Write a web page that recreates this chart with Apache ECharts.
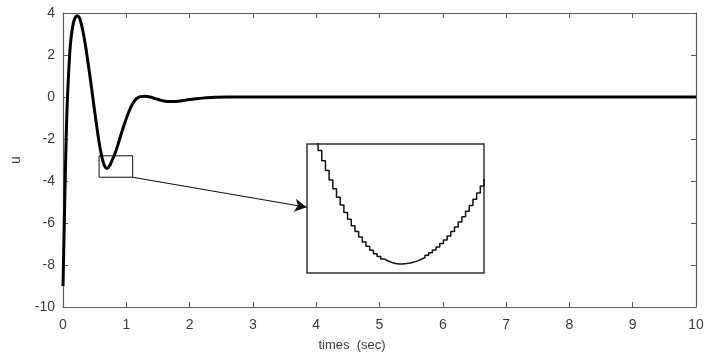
<!DOCTYPE html>
<html>
<head>
<meta charset="utf-8">
<script src="https://cdn.jsdelivr.net/npm/echarts@6/dist/echarts.min.js"></script>
<style>
html,body{margin:0;padding:0;background:#fff;}
#c{width:715px;height:364px;}
</style>
</head>
<body>
<div id="c"></div>
<script>
// Main response (time in sec, control signal u)
var timeValues = [0, 0.015, 0.03, 0.045, 0.06, 0.08, 0.10, 0.12, 0.15, 0.18, 0.21, 0.23, 0.25, 0.27, 0.31, 0.35, 0.39, 0.43, 0.47, 0.51, 0.55, 0.59, 0.63, 0.66, 0.69, 0.73, 0.77, 0.82, 0.87, 0.92, 0.98, 1.04, 1.10, 1.16, 1.22, 1.30, 1.38, 1.46, 1.55, 1.64, 1.72, 1.82, 1.95, 2.10, 2.25, 2.40, 2.60, 3, 4, 5, 6, 7, 8, 9, 10];
var uValues = [-9.0, -6.8, -4.6, -2.6, -0.9, 0.6, 1.75, 2.6, 3.3, 3.7, 3.85, 3.87, 3.82, 3.7, 3.2, 2.55, 1.75, 0.9, 0.0, -0.9, -1.75, -2.5, -3.05, -3.3, -3.4, -3.3, -3.05, -2.7, -2.25, -1.75, -1.2, -0.7, -0.32, -0.08, 0.02, 0.04, 0.0, -0.08, -0.16, -0.21, -0.22, -0.2, -0.14, -0.08, -0.04, -0.01, 0, 0, 0, 0, 0, 0, 0, 0, 0];

// Axis ticks
var xTicks = [0, 1, 2, 3, 4, 5, 6, 7, 8, 9, 10];
var yTicks = [-10, -8, -6, -4, -2, 0, 2, 4];

// Zoom region (small box) and arrow target in main data coordinates
var zoomBoxT = [0.57, 1.10];
var zoomBoxU = [-3.82, -2.8];
var arrowEnd = [3.85, -5.25];

// Inset: sampled (zero-order-hold) samples, depth below inset top
var insetIndex = [0,1,2,3,4,5,6,7,8,9,10,11,12,13,14,15,16,17,18,19,20,21,22,23,24,25,26,27,28,29,30,31,32,33,34,35,36,37,38,39,40,41,42,43,44,45,46,47,48];
var insetDepth = [-27.5,-15.7,-4.3,6.5,16.8,26.6,36.0,44.8,53.2,61.0,68.4,75.3,81.7,87.6,93.0,97.9,102.3,106.2,109.7,112.6,115.1,117.0,118.5,119.5,119.9,120.0,119.6,119.0,118.1,116.9,115.3,113.5,111.3,108.8,106.1,103.0,99.6,95.9,91.9,87.6,83.0,78.1,72.8,67.3,61.5,55.3,48.9,42.1,35.0];

var mainData = timeValues.map(function (t, i) { return [t, uValues[i]]; });
var insetData = insetIndex.map(function (k, i) { return [k, insetDepth[i]]; });

var FONT = 'Liberation Sans, Arial, sans-serif';
var AX = '#5a5a5a';
var LBL = '#3c3c3c';

var chart = echarts.init(document.getElementById('c'), null, {renderer: 'canvas'});
chart.setOption({
  animation: false,
  backgroundColor: '#ffffff',
  grid: [
    {left: 63, top: 13, right: 19, bottom: 57, show: false},
    {left: 307, top: 144, width: 177, height: 129, show: true, borderColor: '#333', borderWidth: 1.5, backgroundColor: '#fff', z: 5}
  ],
  xAxis: [
    {
      type: 'value', gridIndex: 0, min: 0, max: 10, interval: 1, position: 'bottom',
      name: 'times  (sec)', nameLocation: 'middle', nameGap: 32,
      nameTextStyle: {fontFamily: FONT, fontSize: 13, color: LBL, padding: [0, 55, 0, 0]},
      axisLine: {show: true, onZero: false, lineStyle: {color: AX, width: 1.2}},
      axisTick: {show: true, inside: true, length: 5, lineStyle: {color: AX}},
      axisLabel: {show: true, margin: 11, fontFamily: FONT, fontSize: 14, color: LBL,
        formatter: function (v) { return xTicks.indexOf(v) >= 0 ? String(v) : ''; }},
      splitLine: {show: false}
    },
    {
      type: 'value', gridIndex: 0, min: 0, max: 10, interval: 1, position: 'top',
      axisLine: {show: true, onZero: false, lineStyle: {color: AX, width: 1.2}},
      axisTick: {show: true, inside: true, length: 5, lineStyle: {color: AX}},
      axisLabel: {show: false}, splitLine: {show: false}
    },
    {
      type: 'value', gridIndex: 1, min: 0, max: 48,
      axisLine: {show: false, onZero: false}, axisTick: {show: false}, axisLabel: {show: false}, splitLine: {show: false}
    }
  ],
  yAxis: [
    {
      type: 'value', gridIndex: 0, min: -10, max: 4, interval: 2, position: 'left',
      name: 'u', nameLocation: 'middle', nameGap: 40, nameRotate: 90,
      nameTextStyle: {fontFamily: FONT, fontSize: 14, color: LBL},
      axisLine: {show: true, onZero: false, lineStyle: {color: AX, width: 1.2}},
      axisTick: {show: true, inside: true, length: 5, lineStyle: {color: AX}},
      axisLabel: {show: true, margin: 8, fontFamily: FONT, fontSize: 14, color: LBL,
        formatter: function (v) { return yTicks.indexOf(v) >= 0 ? String(v) : ''; }},
      splitLine: {show: false}
    },
    {
      type: 'value', gridIndex: 0, min: -10, max: 4, interval: 2, position: 'right',
      axisLine: {show: true, onZero: false, lineStyle: {color: AX, width: 1.2}},
      axisTick: {show: true, inside: true, length: 5, lineStyle: {color: AX}},
      axisLabel: {show: false}, splitLine: {show: false}
    },
    {
      type: 'value', gridIndex: 1, min: 0, max: 129, inverse: true,
      axisLine: {show: false, onZero: false}, axisTick: {show: false}, axisLabel: {show: false}, splitLine: {show: false}
    }
  ],
  series: [
    {
      type: 'line', xAxisIndex: 0, yAxisIndex: 0, data: mainData,
      smooth: 0.35, showSymbol: false, symbol: 'none',
      lineStyle: {color: '#000', width: 3},
      z: 3,
      markArea: {
        silent: true,
        itemStyle: {color: 'rgba(0,0,0,0)', borderColor: '#111', borderWidth: 1},
        data: [[{coord: [zoomBoxT[0], zoomBoxU[1]]}, {coord: [zoomBoxT[1], zoomBoxU[0]]}]]
      },
      markLine: {
        silent: true,
        symbol: ['none', 'arrow'],
        symbolSize: [10, 12],
        label: {show: false},
        lineStyle: {color: '#111', width: 1.2, type: 'solid'},
        data: [[{coord: [zoomBoxT[1], zoomBoxU[0]]}, {coord: arrowEnd}]]
      }
    },
    {
      type: 'line', xAxisIndex: 2, yAxisIndex: 2, data: insetData,
      step: 'end', showSymbol: false, symbol: 'none', clip: true,
      lineStyle: {color: '#111', width: 1.5},
      z: 6
    }
  ]
});
</script>
</body>
</html>
